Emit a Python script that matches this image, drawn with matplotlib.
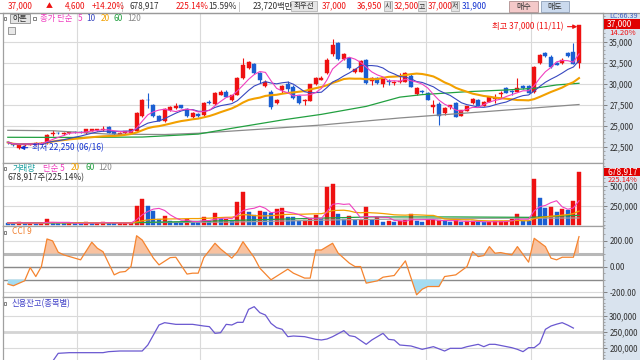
import matplotlib
matplotlib.use("Agg")
import matplotlib.pyplot as plt
from matplotlib.patches import Rectangle
from matplotlib.lines import Line2D
from matplotlib.ticker import FuncFormatter, MultipleLocator, FixedLocator
import numpy as np
import pandas as pd

plt.rcParams['font.family'] = ['Noto Sans CJK KR', 'DejaVu Sans']

# 일봉 데이터 (06/12 ~ 11/11, 103 거래일)
opens = [23100, 22750, 22300, 22650, 22750, 22800, 22850, 22950, 24000, 24150,
         24000, 24100, 24250, 24250, 24100, 24400, 24450, 24450, 24880, 24300,
         23900, 24100, 24170, 24400, 26150, 28100, 27460, 26200, 25550, 26870,
         27100, 27450, 27000, 26000, 26350, 26270, 27850, 27600, 28650, 29050,
         28060, 28650, 30680, 31900, 32350, 31270, 29700, 29050, 27700, 29200,
         30000, 29640, 28530, 27900, 27980, 29960, 30440, 31240, 33500, 34880,
         32940, 33060, 31430, 31430, 32820, 30360, 30680, 29960, 30300, 30050,
         30200, 30240, 30920, 28770, 29170, 28930, 27260, 27600, 26550, 27220,
         27740, 26150, 26790, 27700, 28060, 27340, 27860, 28200, 28800, 29490,
         29100, 29050, 29730, 29730, 29050, 32430, 33690, 33220, 32430, 32430,
         33650, 33740, 32500]
highs = [23150, 22900, 22750, 22900, 22900, 23000, 23000, 24000, 24500, 24300,
         24200, 24300, 24350, 24350, 24600, 24650, 24650, 25000, 24950, 24350,
         24250, 24400, 24600, 26600, 28200, 28950, 27600, 26300, 27050, 27300,
         27700, 27500, 27100, 26600, 26500, 27800, 28000, 29000, 29200, 29200,
         28700, 30800, 33020, 32700, 32500, 31400, 30400, 29200, 28200, 29900,
         30300, 29800, 28600, 28200, 30000, 30800, 30900, 33000, 35340, 35000,
         33600, 33200, 31800, 32800, 32900, 30750, 30750, 30600, 30600, 30300,
         31300, 31400, 31100, 29600, 29300, 29000, 28060, 27800, 27200, 27500,
         27800, 26900, 27400, 28250, 28150, 27900, 28400, 28750, 29100, 29600,
         29300, 30700, 29800, 29800, 32100, 33500, 33800, 33400, 32600, 33000,
         33800, 34850, 37000]
lows = [22800, 22600, 22250, 22550, 22700, 22750, 22800, 22850, 23800, 24000,
        23950, 24050, 24100, 24100, 24050, 24350, 24400, 24400, 24100, 23950,
        23850, 24050, 24100, 24300, 26000, 27100, 26000, 25500, 25450, 26800,
        27000, 27050, 26050, 25950, 26000, 26200, 27600, 27500, 28600, 28400,
        27900, 28600, 30500, 31800, 31200, 30050, 29600, 27000, 27600, 28900,
        29000, 28200, 27600, 27500, 27900, 29900, 30400, 31200, 33300, 32800,
        32800, 31800, 31300, 31400, 29950, 29900, 29950, 29600, 29800, 29900,
        30100, 30200, 29600, 28700, 28900, 28000, 26500, 25100, 26300, 27000,
        26000, 26100, 26700, 27600, 27300, 27300, 27800, 27700, 28300, 28900,
        28700, 29000, 29400, 28900, 28900, 32300, 33200, 31900, 32200, 32300,
        33200, 32300, 31900]
closes = [23000, 22700, 22700, 22850, 22850, 22950, 22950, 23900, 24150, 24100,
          24100, 24250, 24200, 24200, 24570, 24600, 24600, 24600, 24170, 24000,
          24170, 24350, 24570, 26500, 28060, 28000, 26150, 25600, 27000, 27260,
          27400, 27100, 26100, 26500, 26100, 27700, 27700, 28900, 29050, 28450,
          28650, 30680, 32230, 32600, 31270, 30440, 30200, 27230, 28100, 29700,
          29400, 28260, 27740, 28100, 29960, 30680, 30700, 32820, 34610, 32900,
          33530, 31870, 31720, 32700, 30050, 30680, 30050, 30560, 30240, 30240,
          30360, 31270, 29640, 29490, 28970, 28060, 27460, 26200, 27100, 27460,
          26070, 26870, 27340, 28180, 27340, 27860, 28380, 28300, 28900, 28930,
          29000, 29490, 29450, 28930, 32020, 33420, 33300, 32030, 32230, 32820,
          33300, 32400, 37000]
volumes = [30000, 28000, 35000, 25000, 30000, 22000, 28000, 76000, 30000, 25000,
           22000, 28000, 25000, 22000, 38000, 25000, 30000, 38000, 28000, 22000,
           25000, 28000, 30000, 242000, 332000, 242000, 178000, 76000, 111000, 51000,
           42000, 38000, 76000, 38000, 35000, 102000, 51000, 153000, 76000, 82000,
           51000, 297000, 425000, 170000, 136000, 178000, 162000, 155000, 200000, 213000,
           106000, 100000, 51000, 64000, 93000, 136000, 85000, 489000, 523000, 140000,
           85000, 115000, 64000, 66000, 226000, 72000, 98000, 42000, 51000, 40000,
           51000, 64000, 140000, 51000, 42000, 64000, 66000, 72000, 51000, 38000,
           64000, 38000, 51000, 52000, 38000, 35000, 45000, 48000, 52000, 53000,
           85000, 140000, 51000, 50000, 587000, 348000, 221000, 228000, 170000, 200000,
           195000, 306000, 678917]

# 60/120일 이평선 (그림에서 읽은 꺾임점)
ma60_idx = [0, 12, 24, 34, 40, 49, 56, 64, 70, 74, 82, 89, 94, 98, 102]
ma60_val = [23620, 23600, 23650, 24000, 24690, 25680, 26350, 27300, 28400, 28700,
            29050, 29250, 29450, 29850, 30050]
ma120_idx = [0, 8, 18, 28, 34, 45, 56, 70, 88, 102]
ma120_val = [24450, 24400, 24000, 23950, 24100, 24580, 25080, 25920, 26810, 27520]

# 거래량 60/120 이평
vma60_idx = [0, 22, 35, 45, 56, 65, 80, 93, 102]
vma60_val = [32000, 32000, 50000, 70000, 90000, 105000, 105000, 100000, 125000]
vma120_idx = [0, 40, 60, 80, 102]
vma120_val = [25000, 40000, 70000, 85000, 92000]

# CCI 9
cci_idx = [0, 1, 3, 4, 5, 6, 7, 8, 9, 10, 13, 15, 16, 17, 19, 20, 21, 22, 23, 24,
           26, 27, 29, 30, 32, 33, 34, 35, 37, 38, 40, 41, 42, 44, 45, 47, 50, 51, 53, 54,
           55, 56, 58, 59, 61, 62, 63, 64, 66, 67, 69, 71, 73, 74, 75, 77, 78, 80, 82, 83,
           84, 85, 86, 87, 88, 90, 91, 93, 94, 96, 97, 98, 99, 101, 102]
cci_val = [-135, -148, -110, -8, -77, 0, 213, 198, 111, 90, 52, 188, 141, 115, -64, -43, -38, 0, 238, 205,
           65, 13, 69, 72, -58, -51, -51, 69, 180, 136, 65, 115, 192, 69, -12, -102, -20, -51, -89, -89,
           128, 128, 180, 103, 26, 0, 0, -128, -110, -82, -69, 44, -218, -175, -154, -154, -77, -64, 0, 115,
           77, 85, 154, 103, 108, 90, 154, 34, 218, 154, 65, 52, 72, 72, 231]

# 신용잔고(종목별)
credit_idx = [8, 9, 11, 17, 18, 20, 24, 25, 27, 28, 30, 33, 35, 36, 37, 38, 39, 40, 41, 42,
              43, 44, 45, 46, 47, 48, 49, 50, 51, 53, 55, 56, 57, 58, 60, 61, 62, 64, 65, 67,
              68, 69, 70, 72, 74, 76, 78, 79, 81, 82, 84, 85, 86, 87, 90, 91, 92, 93, 94, 95,
              96, 97, 98, 99, 100, 101]
credit_val = [160000, 184600, 186600, 186600, 189700, 191700, 191700, 210100, 271500, 278600,
              273500, 273500, 268400, 266400, 245900, 247900, 273500, 271500, 279700, 279700,
              319500, 327700, 309300, 302100, 276600, 263300, 258200, 235700, 237700, 235700,
              227500, 225500, 228500, 235700, 254100, 238700, 235700, 212200, 225500, 245900,
              227500, 225500, 210100, 207100, 196800, 205000, 191700, 199900, 199900, 205000,
              212200, 205000, 212200, 212200, 201900, 196800, 189700, 201900, 201900, 215200,
              258200, 268400, 274000, 278600, 271000, 262000]

RED = '#ee1111'
BLUE = '#1a5ed2'
DARK = '#303030'
PINK = '#f040c0'
MBLUE = '#3848c0'
ORANGE = '#f2a000'
GREEN = '#22a040'
GRAY = '#8a8a8a'

W, H = 640, 360
fig = plt.figure(figsize=(6.4, 3.6), dpi=100)
fig.patch.set_facecolor('white')


def px_axes(x0, y0, x1, y1):
    return fig.add_axes([x0 / W, 1 - y1 / H, (x1 - x0) / W, (y1 - y0) / H])


def px_rect(x0, y0, x1, y1, fc, ec='none', lw=0.6, z=1):
    fig.add_artist(Rectangle((x0 / W, 1 - y1 / H), (x1 - x0) / W, (y1 - y0) / H,
                             transform=fig.transFigure, fc=fc, ec=ec, lw=lw, zorder=z))


def px_line(x0, y0, x1, y1, color='#a0a0a0', lw=0.8, z=2):
    fig.add_artist(Line2D([x0 / W, x1 / W], [1 - y0 / H, 1 - y1 / H],
                          transform=fig.transFigure, color=color, lw=lw, zorder=z))


def px_text(x, y, s, color=DARK, size=6.0, ha='left', z=4):
    fig.text(x / W, 1 - y / H, s, color=color, fontsize=size, ha=ha, va='center', zorder=z)


# 오른쪽 축 영역, 상단 시세 줄
px_rect(603, 13, 640, 360, '#d9e3ee', z=-1)
px_rect(0, 0, 640, 12.5, 'white', z=-1)
px_line(0, 12.5, 640, 12.5, '#9a9a9a', 0.9)
for sx in [122, 239]:
    px_line(sx, 1.5, sx, 11, '#c8c8c8', 0.7)

hy = 6.2
hs = 5.9
px_text(8, hy, '37,000', RED, hs)
px_text(46, hy, '▲', RED, 5.0)
px_text(65, hy, '4,600', RED, hs)
px_text(92, hy, '+14.20%', RED, hs)
px_text(130, hy, '678,917', DARK, hs)
px_text(176, hy, '225.14%', RED, hs)
px_text(208, hy, '15.59%', DARK, hs)
px_text(253, hy, '23,720백만', DARK, hs)
px_rect(291, 1.5, 317, 11, '#e6e6e6', '#b4b4b4')
px_text(304, hy, '최우선', DARK, 5.4, ha='center')
px_text(322, hy, '37,000', RED, hs)
px_text(357, hy, '36,950', RED, hs)
px_rect(384, 1.5, 392, 11, '#e6e6e6', '#b4b4b4')
px_text(388, hy, '시', DARK, 5.0, ha='center')
px_text(394, hy, '32,500', RED, hs)
px_rect(418, 1.5, 426, 11, '#e6e6e6', '#b4b4b4')
px_text(422, hy, '고', DARK, 5.0, ha='center')
px_text(428, hy, '37,000', RED, hs)
px_rect(451, 1.5, 459, 11, '#e6e6e6', '#b4b4b4')
px_text(455, hy, '저', DARK, 5.0, ha='center')
px_text(462, hy, '31,900', '#1030d0', hs)
px_rect(509, 1, 538, 11.5, '#f4c9c9', '#b09090')
px_text(523.5, hy, '매수', DARK, 5.8, ha='center')
px_rect(541, 1, 569, 11.5, '#cbdaee', '#8fa0b8')
px_text(555, hy, '매도', DARK, 5.8, ha='center')

# 패널
XMIN = -(7.8 - 3) / 5.6
XMAX = XMIN + 600 / 5.6
month_lines = [12.4, 34.3, 55.4, 74.7, 93.4]

ax_p = px_axes(3, 13.5, 603, 163)
ax_v = px_axes(3, 163, 603, 226)
ax_c = px_axes(3, 226, 603, 296.5)
ax_s = px_axes(3, 296.5, 603, 361)

for ax in [ax_p, ax_v, ax_c, ax_s]:
    ax.set_xlim(XMIN, XMAX)
    ax.set_facecolor('white')
    ax.set_axisbelow(True)
    for sp in ax.spines.values():
        sp.set_color('#a0a0a0')
        sp.set_linewidth(0.9)
    ax.tick_params(axis='x', bottom=False, labelbottom=False)
    ax.yaxis.tick_right()
    ax.tick_params(axis='y', which='major', direction='out', length=3, width=0.6,
                   color='#707070', labelsize=5.7, labelcolor=DARK, pad=1.5)
    ax.tick_params(axis='y', which='minor', direction='out', length=1.5, width=0.5, color='#8a8a8a')
    for xv in month_lines:
        ax.axvline(xv, color='#dadada', lw=0.8, zorder=0)

comma = FuncFormatter(lambda v, p: f'{int(round(v)):,}')

# 가격 패널
n = len(closes)
x = np.arange(n)
o = np.array(opens)
c = np.array(closes)
up = c >= o
ccol = np.where(up, RED, BLUE)
ax_p.set_ylim(20559, 38357)
ax_p.yaxis.set_major_locator(FixedLocator([22500, 25000, 27500, 30000, 32500, 35000]))
ax_p.yaxis.set_minor_locator(MultipleLocator(500))
ax_p.yaxis.set_major_formatter(comma)
ax_p.grid(axis='y', color='#dadada', lw=0.8)
ax_p.vlines(x, lows, highs, colors=ccol, lw=0.8, zorder=2)
ax_p.bar(x, np.maximum(np.abs(c - o), 90), bottom=np.minimum(o, c), width=0.74,
         color=ccol, edgecolor=ccol, lw=0.3, zorder=2)
cs = pd.Series(closes)
ax_p.plot(ma120_idx, ma120_val, color=GRAY, lw=0.9, zorder=3)
ax_p.plot(ma60_idx, ma60_val, color=GREEN, lw=0.9, zorder=3)
ax_p.plot(x, cs.rolling(20, min_periods=1).mean(), color=ORANGE, lw=1.5, zorder=3)
ax_p.plot(x, cs.rolling(10, min_periods=1).mean(), color=MBLUE, lw=0.8, zorder=3)
ax_p.plot(x, cs.rolling(5, min_periods=1).mean(), color=PINK, lw=0.8, zorder=3)

ax_p.annotate('최고 37,000 (11/11)', xy=(101.7, 36790), xytext=(99.2, 36790),
              ha='right', va='center', color=RED, fontsize=6.0,
              arrowprops=dict(arrowstyle='-|>', color=RED, lw=0.8, mutation_scale=6,
                              shrinkA=1, shrinkB=0))
ax_p.annotate('최저 22,250 (06/16)', xy=(2.2, 22380), xytext=(4.3, 22380),
              ha='left', va='center', color='#1030d0', fontsize=6.0,
              arrowprops=dict(arrowstyle='-|>', color='#1030d0', lw=0.8, mutation_scale=6,
                              shrinkA=1, shrinkB=0))

# 가격 패널 범례
ly = 18.5
px_rect(3.5, 17, 6.5, 20, 'white', '#707070', 0.6, z=3)
px_rect(10, 14.5, 30, 22.5, '#e4e4e4', '#8c8c8c', 0.6, z=3)
px_text(20, ly, '아톤', DARK, 5.8, ha='center')
px_rect(33, 17, 36, 20, 'white', '#707070', 0.6, z=3)
px_text(40, ly, '종가 단순', PINK)
px_text(78, ly, '5', PINK)
px_text(86, ly, '10', MBLUE)
px_text(101, ly, '20', ORANGE)
px_text(113, ly, '60', GREEN)
px_text(127, ly, '120', GRAY)
px_rect(8, 27, 15, 34, '#e8e8e8', '#8a8a8a', 0.6, z=3)

# 가격 축 라벨
px_text(609, 16.5, 'LC:66.39', '#4060c0', 5.2)
px_rect(604, 19.5, 640, 28.5, '#e00000', z=5)
px_text(607, 24, '37,000', 'white', 6.0, z=6)
px_text(609, 33, '14.20%', RED, 5.6, z=6)

# 거래량 패널
v = np.array(volumes)
vup = np.concatenate([[False], v[1:] >= v[:-1]])
vcol = np.where(vup, RED, BLUE)
ax_v.set_ylim(-10000, 790000)
ax_v.yaxis.set_major_locator(FixedLocator([250000, 500000]))
ax_v.yaxis.set_minor_locator(MultipleLocator(50000))
ax_v.yaxis.set_major_formatter(comma)
ax_v.grid(axis='y', color='#dadada', lw=0.8)
ax_v.bar(x, v, width=0.74, color=vcol, edgecolor=vcol, lw=0.3, zorder=2)
vs = pd.Series(volumes)
ax_v.plot(vma120_idx, vma120_val, color='#a0a0a0', lw=0.9, zorder=3)
ax_v.plot(vma60_idx, vma60_val, color=GREEN, lw=0.9, zorder=3)
ax_v.plot(x, vs.rolling(20, min_periods=1).mean(), color=ORANGE, lw=0.9, zorder=3)
ax_v.plot(x, vs.rolling(5, min_periods=1).mean(), color=PINK, lw=0.8, zorder=3)

px_rect(3.5, 166.5, 6.5, 169.5, 'white', '#707070', 0.6, z=3)
px_text(13, 168, '거래량', '#1aa0a0')
px_text(43, 168, '단순 5', PINK)
px_text(71, 168, '20', ORANGE)
px_text(85, 168, '60', GREEN)
px_text(98, 168, '120', GRAY)
px_text(7, 177.5, '678,917주(225.14%)', DARK)

px_rect(604, 167.5, 640, 176, '#e00000', z=5)
px_text(607, 171.8, '678,917', 'white', 6.0, z=6)
px_text(608, 179.6, '225.14%', RED, 5.4, z=6)

# CCI 패널
ax_c.set_ylim(-231, 313)
ax_c.yaxis.set_major_locator(FixedLocator([-200, 0, 200]))
ax_c.yaxis.set_minor_locator(MultipleLocator(50))
ax_c.yaxis.set_major_formatter(FuncFormatter(lambda val, p: f'{val:.2f}'))
ax_c.grid(axis='y', color='#dadada', lw=0.8)
ax_c.axhline(100, color='#b8b8b8', lw=2.2, zorder=1)
ax_c.axhline(0, color='#8a8a8a', lw=1.0, zorder=1)
ax_c.axhline(-100, color='#8a8a8a', lw=1.0, zorder=1)
ci = np.array(cci_idx)
cv = np.array(cci_val, dtype=float)
ax_c.fill_between(ci, cv, 100, where=cv > 100, interpolate=True, color='#f8c2a0', lw=0, zorder=2)
ax_c.fill_between(ci, cv, -100, where=cv < -100, interpolate=True, color='#a4dcf2', lw=0, zorder=2)
ax_c.plot(ci, cv, color='#f5842f', lw=0.9, zorder=3, clip_on=False)
px_rect(3.5, 230.5, 6.5, 233.5, 'white', '#707070', 0.6, z=3)
px_text(12, 232, 'CCI 9', '#f08030')

# 신용잔고 패널
ax_s.set_ylim(161040, 358900)
ax_s.yaxis.set_major_locator(FixedLocator([200000, 250000, 300000]))
ax_s.yaxis.set_minor_locator(MultipleLocator(10000))
ax_s.yaxis.set_major_formatter(comma)
ax_s.axhline(300000, color='#dadada', lw=0.8, zorder=0)
ax_s.axhline(250000, color='#d4d4d4', lw=2.0, zorder=0)
ax_s.axhline(200000, color='#dadada', lw=0.8, zorder=0)
ax_s.plot(credit_idx, credit_val, color='#6a58d0', lw=0.9, zorder=3)
px_rect(3.5, 302, 6.5, 305, 'white', '#707070', 0.6, z=3)
px_text(12, 303.5, '신용잔고(종목별)', '#4040c8')

fig.savefig('out.png', dpi=100)
